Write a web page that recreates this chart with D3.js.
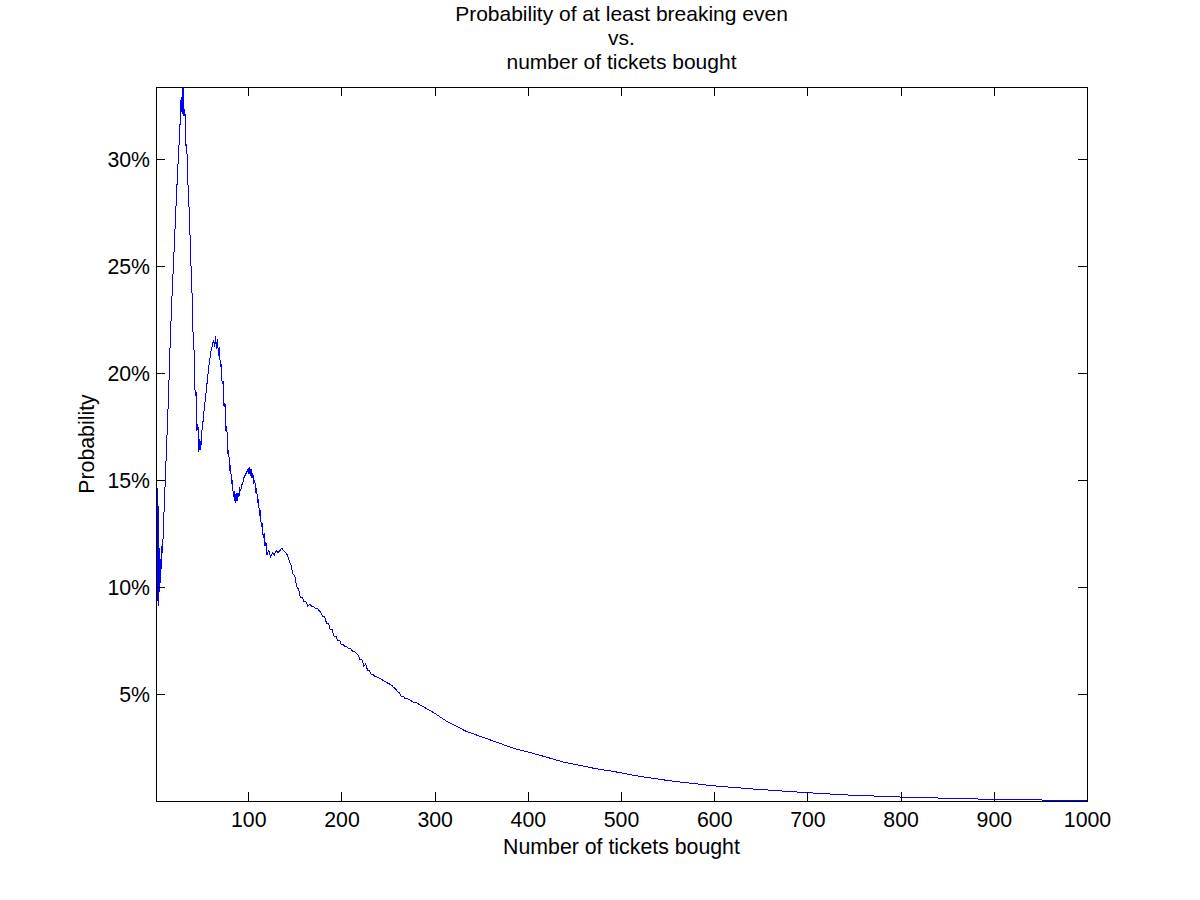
<!DOCTYPE html>
<html>
<head>
<meta charset="utf-8">
<script src="https://cdn.jsdelivr.net/npm/d3@7"></script>
<style>
  html, body { margin: 0; padding: 0; background: #ffffff; }
  svg { display: block; }
  text { font-family: "Liberation Sans", Arial, Helvetica, sans-serif; fill: #000; }
</style>
</head>
<body>
<svg id="chart" width="1200" height="900"></svg>
<script>
// ---- data (values in percent) ----
const tickets = [
  1,2,3,4,5,6,7,8,9,10,11,12,13,14,15,16,17,18,19,20,
  21,22,23,24,25,26,27,28,29,30,31,32,33,34,35,36,37,38,39,40,
  41,42,43,44,45,46,47,48,49,50,51,52,53,54,55,56,57,58,59,60,
  61,62,63,64,65,66,67,68,69,70,71,72,73,74,75,76,77,78,79,80,
  81,82,83,84,85,86,87,88,89,90,91,92,93,94,95,96,97,98,99,100,
  101,102,103,104,105,106,107,108,109,110,111,112,113,114,115,116,117,118,119,120,
  122,124,126,128,130,132,134,136,138,140,142,144,146,148,150,152,154,156,158,160,
  162,164,166,168,170,172,174,176,178,180,182,184,186,188,190,192,194,196,198,200,
  202,204,206,208,210,212,214,216,218,220,222,224,226,228,230,232,234,236,238,240,
  242,244,246,248,250,252,254,256,258,260,262,264,266,268,270,272,274,276,278,280,
  282,284,286,288,290,292,294,296,298,300,
  313,334,349,367,384,402,420,438,456,474,492,510,528,545,563,
  599,642,695,738,796,867,925,1000
];
const probability = [
  18.75,8.8,14.6,9.1,11.8,10.2,11.9,11.6,12.8,14.0,15.0,16.2,17.3,18.4,19.7,21.1,22.3,23.4,24.4,25.3,
  26.3,27.3,28.3,29.2,30.1,30.9,31.8,32.9,32.1,33.35,32.0,32.3,30.6,30.7,28.9,28.6,26.6,26.3,24.0,23.6,
  21.3,21.0,18.9,19.1,17.3,17.6,16.3,16.9,16.4,17.2,17.5,18.0,18.4,18.8,19.2,19.6,20.0,20.4,20.7,21.0,
  21.2,21.4,21.5,21.2,21.7,21.1,21.6,20.8,21.2,20.3,20.4,19.5,19.6,18.4,18.6,17.3,17.5,16.2,16.4,15.4,
  15.7,14.8,15.0,14.2,14.5,13.9,14.4,14.0,14.4,14.2,14.6,14.5,14.8,14.8,15.1,15.1,15.3,15.3,15.5,15.3,
  15.6,15.2,15.5,15.1,15.3,14.8,15.0,14.4,14.6,13.9,14.1,13.3,13.6,12.8,13.0,12.3,12.5,11.9,12.1,11.5,
  11.7,11.4,11.6,11.5,11.7,11.6,11.7,11.8,11.7,11.6,11.5,11.2,11.0,10.6,10.5,10.0,9.9,9.5,9.5,9.3,
  9.3,9.1,9.2,9.1,9.1,9.0,9.0,8.9,8.8,8.6,8.6,8.3,8.3,8.0,8.0,7.7,7.7,7.5,7.5,7.3,
  7.3,7.2,7.2,7.1,7.1,7.0,7.0,6.9,6.8,6.6,6.6,6.3,6.4,6.1,6.1,5.9,5.9,5.8,5.8,5.75,
  5.7,5.65,5.6,5.55,5.5,5.45,5.4,5.3,5.25,5.1,5.05,4.9,4.9,4.8,4.8,4.75,4.7,4.65,4.6,4.6,
  4.55,4.5,4.45,4.4,4.35,4.3,4.25,4.2,4.15,4.1,
  3.72,3.25,3.02,2.74,2.47,2.27,2.05,1.82,1.66,1.50,1.38,1.23,1.10,0.99,0.89,
  0.71,0.56,0.40,0.29,0.19,0.11,0.05,0.04
];
const xTickValues = [100,200,300,400,500,600,700,800,900,1000];
const yTickValues = [5,10,15,20,25,30];
const yTickLabels = ["5%","10%","15%","20%","25%","30%"];
const titleLines = ["Probability of at least breaking even", "vs.", "number of tickets bought"];
const xLabel = "Number of tickets bought";
const yLabel = "Probability";

// ---- layout ----
const plotLeft = 156, plotRight = 1087, plotTop = 87, plotBottom = 801;
const fontSize = 21.3;
const titleSize = 21;
const titleStep = 23.8;
const svg = d3.select("#chart");
svg.append("rect").attr("width", 1200).attr("height", 900).attr("fill", "#fff");

const data = tickets.map((t, i) => ({ t: t, p: probability[i] }));

const x = d3.scaleLinear().domain([d3.min(tickets), d3.max(tickets)]).range([plotLeft, plotRight]);
const y = d3.scaleLinear().domain([0, d3.max(probability)]).range([plotBottom, plotTop]);

// clip
svg.append("defs").append("clipPath").attr("id", "plotclip")
  .append("rect").attr("x", plotLeft).attr("y", plotTop)
  .attr("width", plotRight - plotLeft + 1).attr("height", plotBottom - plotTop + 1);

// data line
const line = d3.line().x(d => x(d.t)).y(d => y(d.p));
svg.append("path")
  .datum(data)
  .attr("clip-path", "url(#plotclip)")
  .attr("d", line)
  .attr("fill", "none")
  .attr("stroke", "#0000ff")
  .attr("stroke-width", 1)
  .attr("shape-rendering", "crispEdges");

// axes
function styleAxis(g) {
  g.select(".domain").remove();
  g.selectAll(".tick line").attr("stroke", "#000").attr("shape-rendering", "crispEdges");
  g.selectAll(".tick text").attr("font-size", fontSize).attr("fill", "#000")
    .attr("font-family", '"Liberation Sans", Arial, Helvetica, sans-serif');
}

const gBottom = svg.append("g").attr("transform", `translate(0,${plotBottom})`)
  .call(d3.axisBottom(x).tickValues(xTickValues).tickFormat(d3.format("d"))
    .tickSize(-9).tickSizeOuter(0).tickPadding(11));
styleAxis(gBottom);

const gTop = svg.append("g").attr("transform", `translate(0,${plotTop})`)
  .call(d3.axisTop(x).tickValues(xTickValues).tickFormat("").tickSize(-9).tickSizeOuter(0));
styleAxis(gTop);

const gLeft = svg.append("g").attr("transform", `translate(${plotLeft},0)`)
  .call(d3.axisLeft(y).tickValues(yTickValues)
    .tickFormat((d, i) => yTickLabels[i]).tickSize(-9).tickSizeOuter(0).tickPadding(6));
styleAxis(gLeft);
gLeft.selectAll(".tick text").attr("dy", "0.37em");

const gRight = svg.append("g").attr("transform", `translate(${plotRight},0)`)
  .call(d3.axisRight(y).tickValues(yTickValues).tickFormat("").tickSize(-9).tickSizeOuter(0));
styleAxis(gRight);

// box
svg.append("rect")
  .attr("x", plotLeft + 0.5).attr("y", plotTop + 0.5)
  .attr("width", plotRight - plotLeft).attr("height", plotBottom - plotTop)
  .attr("fill", "none").attr("stroke", "#000").attr("stroke-width", 1)
  .attr("shape-rendering", "crispEdges");

// title (three lines)
const cx = (plotLeft + plotRight) / 2;
svg.append("g").selectAll("text").data(titleLines).join("text")
  .attr("x", cx)
  .attr("y", (d, i) => 21 + i * titleStep)
  .attr("text-anchor", "middle")
  .attr("font-size", titleSize)
  .text(d => d);

// axis labels
svg.append("text")
  .attr("x", cx).attr("y", 854)
  .attr("text-anchor", "middle")
  .attr("font-size", fontSize)
  .text(xLabel);

svg.append("text")
  .attr("transform", `translate(93.5,${(plotTop + plotBottom) / 2}) rotate(-90)`)
  .attr("text-anchor", "middle")
  .attr("font-size", fontSize)
  .text(yLabel);
</script>
</body>
</html>
